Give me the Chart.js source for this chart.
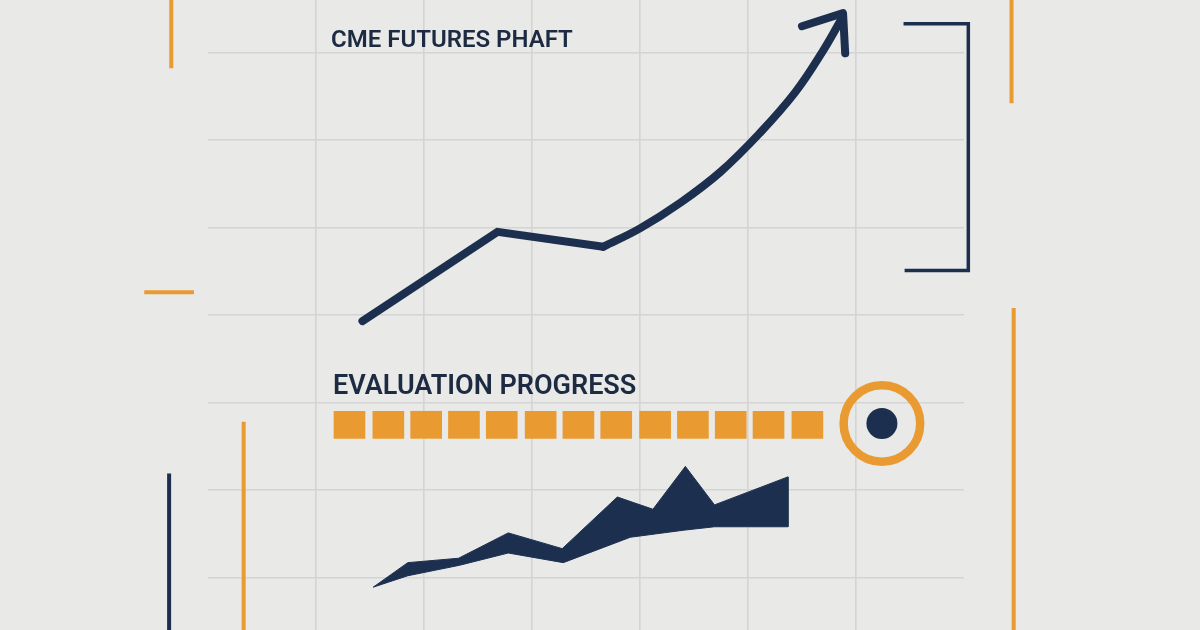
<!DOCTYPE html>
<html>
<head>
<meta charset="utf-8">
<script src="https://cdn.jsdelivr.net/npm/chart.js@4.4.1/dist/chart.umd.min.js"></script>
<style>
  html, body { margin: 0; padding: 0; background: #e9e9e8; }
  #wrap { position: relative; width: 1200px; height: 630px; }
  #chart { display: block; }
  .label {
    position: absolute;
    font-family: Roboto, "Noto Sans", sans-serif;
    color: #1d2b42;
    white-space: nowrap;
    line-height: 1;
  }
</style>
</head>
<body>
<div id="wrap">
  <canvas id="chart"></canvas>
  <div class="label" style="left:331px; top:27px; font-size:24px; font-weight:600;">CME FUTURES PHAFT</div>
  <div class="label" style="left:333px; top:372px; font-size:27px; font-weight:600;">EVALUATION PROGRESS</div>
</div>
<script>
// grid units: x = column, y = row (0 = bottom grid line)
const xGrid = [1, 2, 3, 4, 5, 6];
const yGrid = [0, 1, 2, 3, 4, 5, 6];

// futures price line, first straight leg then the rising curve
const priceLeg = [
  { x: 1.43, y: 2.93 }, { x: 2.68, y: 3.95 }, { x: 3.66, y: 3.78 },
];
const priceCurve = [
  { x: 3.66, y: 3.78 }, { x: 4.0, y: 3.99 }, { x: 4.37, y: 4.28 },
  { x: 4.74, y: 4.63 }, { x: 5.11, y: 5.08 }, { x: 5.44, y: 5.55 },
  { x: 5.69, y: 6.01 }, { x: 5.86, y: 6.37 },
];
const arrowHead = [
  { x: 5.5, y: 6.3 }, { x: 5.88, y: 6.45 }, { x: 5.9, y: 5.99 },
];

// evaluation progress segments
const progressX = [1.31, 1.67, 2.02, 2.37, 2.72, 3.08, 3.43, 3.78, 4.14, 4.49, 4.84, 5.19, 5.55];
const progressLow = 1.59;
const progressHigh = 1.9;
const target = [{ x: 6.24, y: 1.76 }];

// lower band: upper edge and lower edge
const bandTop = [
  { x: 1.53, y: -0.11 }, { x: 1.85, y: 0.17 }, { x: 2.32, y: 0.22 },
  { x: 2.78, y: 0.51 }, { x: 3.28, y: 0.33 }, { x: 3.79, y: 0.92 },
  { x: 4.12, y: 0.78 }, { x: 4.42, y: 1.27 }, { x: 4.69, y: 0.83 },
  { x: 5.37, y: 1.15 }, { x: 5.37, y: 0.58 },
];
const bandBottom = [
  { x: 1.53, y: -0.11 }, { x: 1.85, y: 0.02 }, { x: 2.33, y: 0.14 },
  { x: 2.78, y: 0.28 }, { x: 3.29, y: 0.17 }, { x: 3.91, y: 0.46 },
  { x: 4.4, y: 0.54 }, { x: 4.69, y: 0.58 }, { x: 5.37, y: 0.58 },
];

// decorative strokes
const orangeMarks = [
  [{ x: -0.34, y: 6.7 }, { x: -0.34, y: 5.82 }],
  [{ x: -0.59, y: 3.26 }, { x: -0.13, y: 3.26 }],
  [{ x: 0.33, y: 1.78 }, { x: 0.33, y: -0.7 }],
  [{ x: 7.44, y: 6.7 }, { x: 7.44, y: 5.42 }],
  [{ x: 7.46, y: 3.08 }, { x: 7.46, y: -0.7 }],
];
const navyMarks = [
  [{ x: -0.36, y: 1.19 }, { x: -0.36, y: -0.7 }],
];
const bracket = [
  { x: 6.44, y: 6.33 }, { x: 7.04, y: 6.33 }, { x: 7.04, y: 3.51 }, { x: 6.45, y: 3.51 },
];

const NAVY = "#1c2f4f";
const ORANGE = "#e99a30";

function stroke(data, color, width, extra) {
  return Object.assign({
    type: "line",
    data,
    borderColor: color,
    borderWidth: width,
    pointRadius: 0,
    pointHoverRadius: 0,
    tension: 0,
    fill: false,
    clip: false,
    borderCapStyle: "butt",
  }, extra || {});
}

const datasets = [
  stroke(arrowHead, NAVY, 8, { borderCapStyle: "round", borderJoinStyle: "round" }),
  stroke(priceCurve, NAVY, 8, { tension: 0.4, borderCapStyle: "round" }),
  stroke(priceLeg, NAVY, 8, { borderCapStyle: "round", borderJoinStyle: "miter" }),
  {
    type: "scatter",
    data: target,
    pointRadius: 15.5,
    pointBackgroundColor: NAVY,
    pointBorderWidth: 0,
    clip: false,
  },
  {
    type: "scatter",
    data: target,
    pointRadius: 38.3,
    pointBackgroundColor: "rgba(0,0,0,0)",
    pointBorderColor: ORANGE,
    pointBorderWidth: 8.5,
    clip: false,
  },
  {
    type: "bar",
    data: progressX.map((x) => ({ x, y: [progressLow, progressHigh] })),
    backgroundColor: ORANGE,
    borderWidth: 0,
    barThickness: 31,
    grouped: false,
  },
  stroke(bandTop.concat(bandBottom.slice().reverse()), NAVY, 1, {
    backgroundColor: NAVY,
    fill: "shape",
  }),
  stroke(bracket, NAVY, 3.5, { borderJoinStyle: "miter" }),
];
orangeMarks.forEach((m) => datasets.push(stroke(m, ORANGE, 4)));
navyMarks.forEach((m) => datasets.push(stroke(m, NAVY, 4)));

const gridStyle = { color: "#d4d4d4", lineWidth: 1.6, drawTicks: false };

new Chart(document.getElementById("chart"), {
  type: "scatter",
  data: { datasets },
  options: {
    responsive: true,
    maintainAspectRatio: false,
    animation: false,
    events: [],
    layout: { autoPadding: false, padding: { left: 208, right: 236, top: 0, bottom: 0 } },
    plugins: { legend: { display: false }, tooltip: { enabled: false } },
    scales: {
      x: {
        type: "linear",
        min: 0,
        max: 7,
        offset: false,
        grid: Object.assign({ offset: false }, gridStyle),
        border: { display: false },
        ticks: { display: false },
        afterBuildTicks: (axis) => { axis.ticks = xGrid.map((v) => ({ value: v })); },
      },
      y: {
        type: "linear",
        min: -0.6,
        max: 6.6,
        grid: gridStyle,
        border: { display: false },
        ticks: { display: false },
        afterBuildTicks: (axis) => { axis.ticks = yGrid.map((v) => ({ value: v })); },
      },
    },
  },
});
</script>
</body>
</html>
